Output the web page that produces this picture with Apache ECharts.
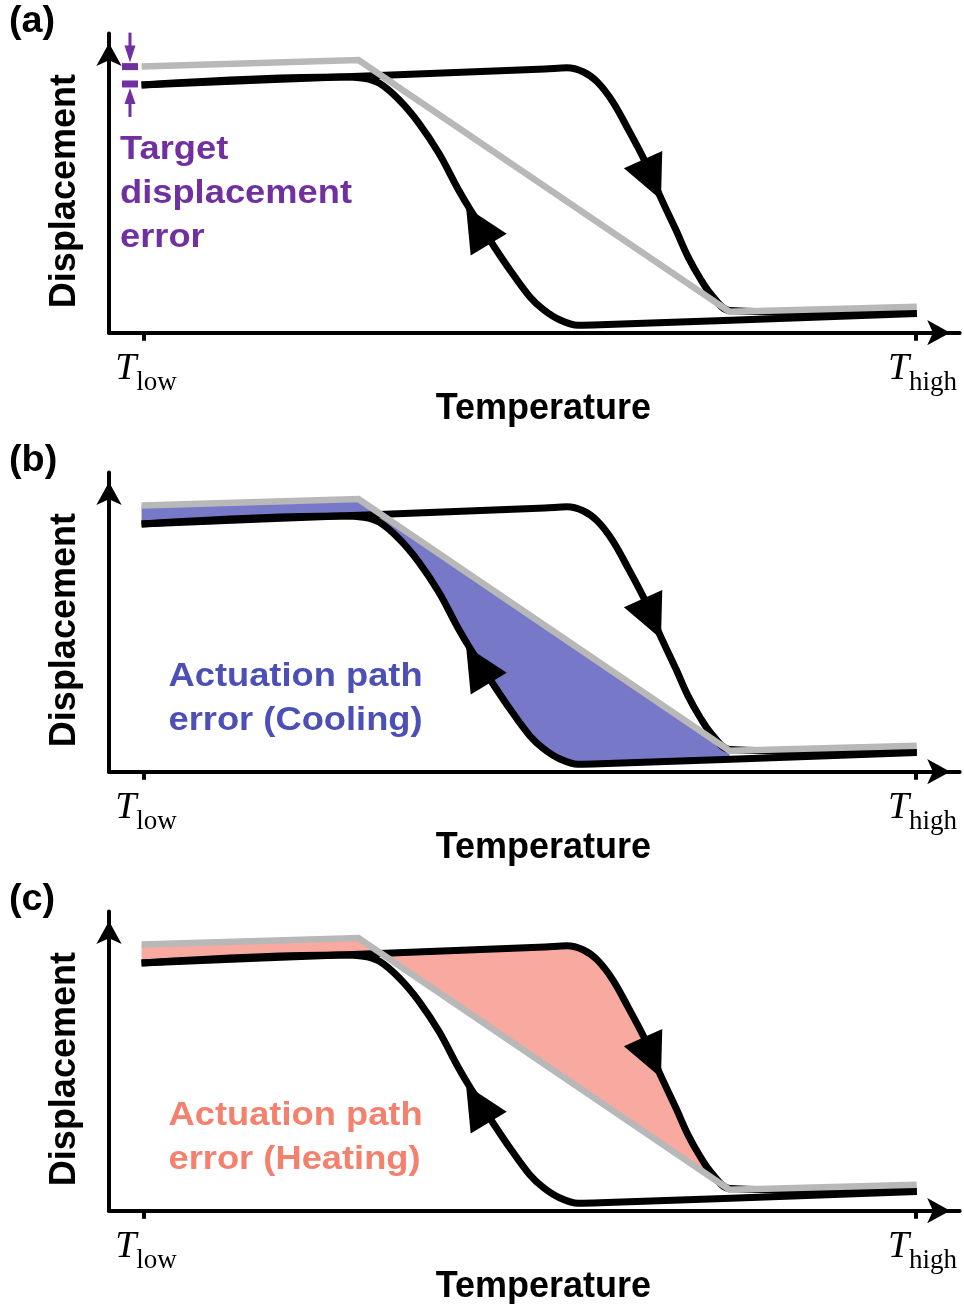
<!DOCTYPE html>
<html>
<head>
<meta charset="utf-8">
<script src="https://cdn.jsdelivr.net/npm/echarts@6/dist/echarts.min.js"></script>
<style>
html,body{margin:0;padding:0;background:#fff;}
#chart{width:964px;height:1304px;}
</style>
</head>
<body>
<div id="chart"></div>
<script>
// ---------------- data ----------------
const panelLabels = ['(a)', '(b)', '(c)'];
const xTickValues = [0, 100];            // T_low, T_high
const xTickSubscripts = ['low', 'high'];
const xAxisName = 'Temperature';
const yAxisName = 'Displacement';

// target (ideal) actuation path
const target = [[-0.25, 88.4], [27.83, 90.6], [75.86, 6.98], [100.1, 8.64]];

// heating branch (T_low -> T_high)
const heating = [
  [-0.25, 82.3], [25.44, 84.95], [51.97, 87.6], [54.82, 88.0], [56.89, 86.7],
  [58.71, 83.4], [60.75, 76.7], [62.80, 67.3], [64.85, 57.3], [66.90, 45.2],
  [68.93, 34.1], [70.49, 25.2], [72.04, 18.1], [73.55, 12.5], [75.86, 7.4],
  [100.1, 6.38]
];

// cooling branch (T_high -> T_low)
const cooling = [
  [100.1, 6.38], [59.10, 2.62], [56.25, 2.46], [53.92, 4.22], [51.84, 7.54],
  [50.0, 11.96], [47.44, 20.83], [45.40, 28.57], [42.33, 40.76], [40.79, 47.41],
  [38.24, 59.6], [35.66, 69.57], [33.11, 77.31], [30.55, 82.86], [28.50, 84.52],
  [25.44, 84.95], [-0.25, 82.3]
];

// direction arrows on the loop: [heating arrow, cooling arrow]
const arrowPoints = [[65.83, 50.83], [43.22, 35.51]];
const errorMarkX = -1.75;

const annotationTexts = [
  'Target\ndisplacement\nerror',
  'Actuation path\nerror (Cooling)',
  'Actuation path\nerror (Heating)'
];

// ---------------- layout / style ----------------
const GRID_LEFT = 109, GRID_WIDTH = 850.7, GRID_HEIGHT = 299.2;
const GRID_TOPS = [33.5, 472.5, 911.5];
const X_MIN = -4.466, X_MAX = 105.66, Y_MAX = 99.4;
const ARROW_ROTATE = [204, 31];
const SANS = '"Liberation Sans", Arial, sans-serif';
const SERIF = '"Liberation Serif", "Times New Roman", serif';
const GRAY = '#B8B8B8';
const annotationColors = ['#7030A0', '#4B4FB6', '#F4806E'];
const fillColors = [null, '#7878C8', '#F8AAA0'];
const annotationPos = [[120, 127.5], [168.5, 654.5], [168.5, 1093.5]];
const labelTops = [4, 443, 882];

function interpAt(path, x) {
  for (let k = 0; k < path.length - 1; k++) {
    const a = path[k], b = path[k + 1];
    if ((a[0] - x) * (b[0] - x) <= 0 && a[0] !== b[0]) {
      const t = (x - a[0]) / (b[0] - a[0]);
      return [x, a[1] + t * (b[1] - a[1])];
    }
  }
  return null;
}

function fillPolygon(kind) {
  const gx = target[2][0];
  let pts = [target[0], target[1], target[2]];
  if (kind === 'cooling') {
    const p = interpAt(cooling, gx);
    pts.push(p);
    cooling.forEach(q => { if (q[0] < gx) pts.push(q); });
  } else {
    heating.filter(q => q[0] <= gx).reverse().forEach(q => pts.push(q));
  }
  return pts;
}

const xAxes = [], yAxes = [], grids = [], series = [];
const arrowLine = {
  show: true, onZero: false,
  symbol: ['none', 'arrow'], symbolSize: [19, 23], symbolOffset: [0, -9.5],
  lineStyle: { color: '#000', width: 4 }
};

for (let i = 0; i < 3; i++) {
  grids.push({ left: GRID_LEFT, top: GRID_TOPS[i], width: GRID_WIDTH, height: GRID_HEIGHT,
               containLabel: false, outerBoundsMode: 'none' });
  xAxes.push({
    gridIndex: i, type: 'value', min: X_MIN, max: X_MAX,
    axisLine: arrowLine,
    axisTick: { show: true, customValues: xTickValues, length: 8, inside: false,
                lineStyle: { color: '#000', width: 4 } },
    axisLabel: {
      show: true, customValues: xTickValues, margin: 17, color: '#000',
      formatter: function (v) {
        const k = xTickValues.indexOf(v);
        return '{sp' + k + '| }{t|T}{s|' + xTickSubscripts[k] + '}';
      },
      rich: {
        sp0: { width: 5, fontSize: 10, lineHeight: 38 },
        sp1: { width: 13, fontSize: 10, lineHeight: 38 },
        t: { fontFamily: SERIF, fontStyle: 'italic', fontSize: 38, lineHeight: 38, color: '#000' },
        s: { fontFamily: SERIF, fontSize: 27, height: 10, verticalAlign: 'bottom', color: '#000' }
      }
    },
    splitLine: { show: false },
    name: xAxisName, nameLocation: 'middle', nameGap: 58, nameMoveOverlap: false,
    nameTextStyle: { fontFamily: SANS, fontWeight: 'bold', fontSize: 36, color: '#000',
                     padding: [0, 0, 0, 18] }
  });
  yAxes.push({
    gridIndex: i, type: 'value', min: 0, max: Y_MAX,
    axisLine: arrowLine,
    axisTick: { show: false }, axisLabel: { show: false }, splitLine: { show: false },
    name: yAxisName, nameLocation: 'middle', nameGap: 26, nameMoveOverlap: false,
    nameTextStyle: { fontFamily: SANS, fontWeight: 'bold', fontSize: 36, color: '#000',
                     padding: [0, 16, 0, 0] }
  });

  if (i > 0) {
    const kind = i === 1 ? 'cooling' : 'heating';
    const color = fillColors[i];
    series.push({
      type: 'custom', xAxisIndex: i, yAxisIndex: i, data: [[0, 0]], z: 1, silent: true, clip: false,
      renderItem: function (params, api) {
        const pts = fillPolygon(kind).map(p => api.coord(p));
        return { type: 'polygon', shape: { points: pts }, style: { fill: color } };
      }
    });
  }

  series.push({
    type: 'line', xAxisIndex: i, yAxisIndex: i, data: heating, smooth: 0.35,
    symbol: 'none', z: 2, silent: true,
    lineStyle: { color: '#000', width: 7, join: 'round' }
  });
  series.push({
    type: 'line', xAxisIndex: i, yAxisIndex: i, data: cooling, smooth: 0.35,
    symbol: 'none', z: 2, silent: true,
    lineStyle: { color: '#000', width: 7, join: 'round' }
  });
  series.push({
    type: 'line', xAxisIndex: i, yAxisIndex: i, data: target, smooth: false,
    symbol: 'none', z: 3, silent: true,
    lineStyle: { color: GRAY, width: 6.5, join: 'miter' }
  });
  series.push({
    type: 'scatter', xAxisIndex: i, yAxisIndex: i, z: 4, silent: true,
    symbol: 'triangle', symbolSize: [42, 44],
    itemStyle: { color: '#000', opacity: 1 },
    data: arrowPoints.map((p, k) => ({ value: p, symbolRotate: ARROW_ROTATE[k] }))
  });

  if (i === 0) {
    const c = annotationColors[0];
    series.push({
      type: 'custom', xAxisIndex: 0, yAxisIndex: 0, z: 5, silent: true, clip: false,
      data: [[errorMarkX, target[0][1], heating[0][1]]],
      renderItem: function (params, api) {
        const top = api.coord([api.value(0), api.value(1)]);
        const bot = api.coord([api.value(0), api.value(2)]);
        const x = top[0];
        return { type: 'group', children: [
          { type: 'rect', shape: { x: x - 8, y: top[1] - 3.5, width: 16, height: 7 }, style: { fill: c } },
          { type: 'rect', shape: { x: x - 8, y: bot[1] - 4.5, width: 16, height: 7 }, style: { fill: c } },
          { type: 'line', shape: { x1: x, y1: top[1] - 34, x2: x, y2: top[1] - 18 }, style: { stroke: c, lineWidth: 3 } },
          { type: 'polygon', shape: { points: [[x - 5.5, top[1] - 21], [x + 5.5, top[1] - 21], [x, top[1] - 4]] }, style: { fill: c } },
          { type: 'line', shape: { x1: x, y1: bot[1] + 32, x2: x, y2: bot[1] + 16 }, style: { stroke: c, lineWidth: 3 } },
          { type: 'polygon', shape: { points: [[x - 5.5, bot[1] + 19], [x + 5.5, bot[1] + 19], [x, bot[1] + 3]] }, style: { fill: c } }
        ]};
      }
    });
  }
}

const graphics = [];
for (let i = 0; i < 3; i++) {
  graphics.push({
    type: 'text', x: 9, y: labelTops[i], scaleX: 1.05, silent: true,
    style: { text: panelLabels[i], fontFamily: SANS, fontWeight: 'bold', fontSize: 36,
             lineHeight: 36, fill: '#000', align: 'left', verticalAlign: 'top' }
  });
  graphics.push({
    type: 'text', x: annotationPos[i][0], y: annotationPos[i][1], scaleX: 1.1, silent: true,
    style: { text: annotationTexts[i], fontFamily: SANS, fontWeight: 'bold', fontSize: 33,
             lineHeight: 44, fill: annotationColors[i], align: 'left', verticalAlign: 'top' }
  });
}

const chart = echarts.init(document.getElementById('chart'), null, { renderer: 'canvas' });
chart.setOption({
  animation: false,
  backgroundColor: '#fff',
  grid: grids,
  xAxis: xAxes,
  yAxis: yAxes,
  series: series,
  graphic: graphics
});
</script>
</body>
</html>
